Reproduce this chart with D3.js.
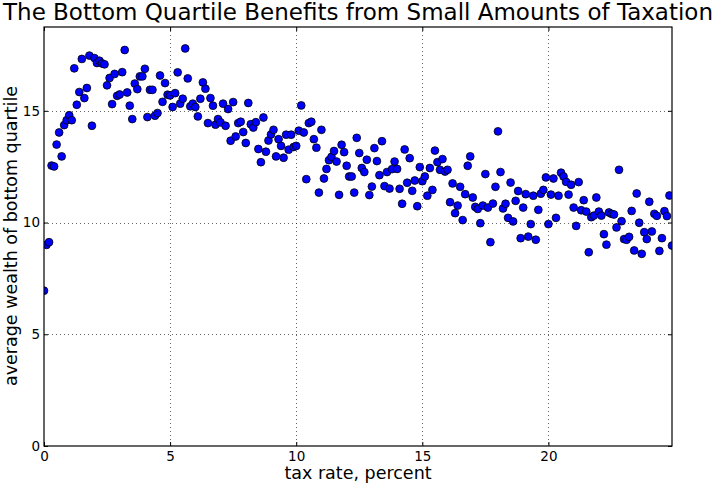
<!DOCTYPE html>
<html><head><meta charset="utf-8">
<script src="https://cdn.jsdelivr.net/npm/d3@7"></script>
<style>body{margin:0;background:#fff}svg{display:block}</style>
</head><body>
<svg id="c" width="719" height="483"></svg>
<script>
const taxRates = [
0,0.1,0.2,0.3,0.4,0.5,0.6,0.7,0.8,0.9,
1,1.1,1.2,1.3,1.4,1.5,1.6,1.7,1.8,1.9,
2,2.1,2.2,2.3,2.4,2.5,2.6,2.7,2.8,2.9,
3,3.1,3.2,3.3,3.4,3.5,3.6,3.7,3.8,3.9,
4,4.1,4.2,4.3,4.4,4.5,4.6,4.7,4.8,4.9,
5,5.1,5.2,5.3,5.4,5.5,5.6,5.7,5.8,5.9,
6,6.1,6.2,6.3,6.4,6.5,6.6,6.7,6.8,6.9,
7,7.1,7.2,7.3,7.4,7.5,7.6,7.7,7.8,7.9,
8,8.1,8.2,8.3,8.4,8.5,8.6,8.7,8.8,8.9,
9,9.1,9.2,9.3,9.4,9.5,9.6,9.7,9.8,9.9,
10,10.1,10.2,10.3,10.4,10.5,10.6,10.7,10.8,10.9,
11,11.1,11.2,11.3,11.4,11.5,11.6,11.7,11.8,11.9,
12,12.1,12.2,12.3,12.4,12.5,12.6,12.7,12.8,12.9,
13,13.1,13.2,13.3,13.4,13.5,13.6,13.7,13.8,13.9,
14,14.1,14.2,14.3,14.4,14.5,14.6,14.7,14.8,14.9,
15,15.1,15.2,15.3,15.4,15.5,15.6,15.7,15.8,15.9,
16,16.1,16.2,16.3,16.4,16.5,16.6,16.7,16.8,16.9,
17,17.1,17.2,17.3,17.4,17.5,17.6,17.7,17.8,17.9,
18,18.1,18.2,18.3,18.4,18.5,18.6,18.7,18.8,18.9,
19,19.1,19.2,19.3,19.4,19.5,19.6,19.7,19.8,19.9,
20,20.1,20.2,20.3,20.4,20.5,20.6,20.7,20.8,20.9,
21,21.1,21.2,21.3,21.4,21.5,21.6,21.7,21.8,21.9,
22,22.1,22.2,22.3,22.4,22.5,22.6,22.7,22.8,22.9,
23,23.1,23.2,23.3,23.4,23.5,23.6,23.7,23.8,23.9,
24,24.1,24.2,24.3,24.4,24.5,24.6,24.7,24.8,24.9
];
const wealth = [
6.95,9.0,9.12,12.55,12.51,13.49,14.03,12.96,14.36,14.58,
14.8,14.58,16.9,15.27,15.84,17.32,15.57,16.02,17.47,14.33,
17.36,17.14,17.24,17.12,17.08,16.14,16.47,15.3,16.65,15.67,
15.73,16.73,17.72,15.82,15.23,14.63,16.22,15.97,16.54,16.54,
16.88,14.72,15.94,15.94,14.78,14.9,16.58,15.4,16.24,15.72,
15.69,15.17,15.79,16.72,15.32,15.54,17.79,16.45,15.2,15.32,
15.17,14.75,15.54,16.27,15.99,14.45,15.57,15.23,14.38,14.63,
14.48,15.32,14.33,15.08,13.66,15.39,13.85,14.45,14.51,14.05,
13.56,15.35,14.4,14.25,14.49,13.29,12.7,14.7,13.17,13.67,
13.94,14.15,12.96,13.73,13.43,12.9,13.93,13.26,13.93,13.38,
13.43,14.11,15.24,14.03,11.94,14.45,14.51,13.73,13.35,11.34,
14.15,11.97,12.4,12.79,12.94,13.2,12.73,11.24,13.48,13.15,
12.54,12.06,12.06,11.34,13.79,13.11,12.44,12.26,12.81,11.23,
11.61,13.33,12.75,12.12,13.64,11.63,12.26,11.52,12.39,12.73,
12.4,11.51,10.84,13.27,11.78,12.88,11.42,11.88,10.73,12.48,
11.85,12.06,11.2,12.44,11.46,13.22,12.7,12.36,12.84,12.28,
12.36,10.91,11.75,10.42,10.76,11.6,10.11,11.27,12.54,12.96,
11.12,10.7,10.61,9.97,10.76,12.17,10.67,9.12,10.85,11.6,
14.08,12.26,10.63,10.84,10.21,11.79,10.05,10.97,11.41,9.3,
10.67,11.27,9.37,9.93,11.2,9.23,10.57,11.29,11.46,12.02,
9.93,11.25,11.97,10.21,11.2,12.23,12.06,11.82,11.25,11.69,
10.67,9.85,11.81,10.55,11.0,10.49,8.67,10.24,10.31,11.12,
10.49,10.31,9.48,9.01,10.45,10.39,10.36,9.78,12.36,10.06,
9.26,9.23,9.36,10.52,8.75,11.3,9.99,8.6,9.57,9.26,
10.93,9.6,10.39,10.3,8.73,9.3,10.51,10.29,11.21,8.97
];
const xTicks = [0, 5, 10, 15, 20];
const yTicks = [0, 5, 10, 15];
const title = "The Bottom Quartile Benefits from Small Amounts of Taxation";
const xLabel = "tax rate, percent";
const yLabel = "average wealth of bottom quartile";

const pL = 44, pR = 672, pT = 27, pB = 446;
const svg = d3.select("#c");
const font = "DejaVu Sans, sans-serif";

const x = d3.scaleLinear().domain([0, 24.9]).range([pL, pR]);
const y = d3.scaleLinear().domain([0, 18.75]).range([pB, pT]);

svg.append("defs").append("clipPath").attr("id", "clip")
  .append("rect").attr("x", pL).attr("y", pT)
  .attr("width", pR - pL).attr("height", pB - pT);

const data = taxRates.map((t, i) => ({t, w: wealth[i]}));

svg.append("g").attr("clip-path", "url(#clip)")
  .selectAll("circle").data(data).join("circle")
  .attr("cx", d => x(d.t)).attr("cy", d => y(d.w))
  .attr("r", 3.9)
  .attr("fill", "#0000ff").attr("stroke", "#000").attr("stroke-width", 0.8);

// grid
const grid = svg.append("g").attr("stroke", "#000").attr("stroke-width", 0.6)
  .attr("stroke-dasharray", "1,3");
grid.selectAll(".gx").data(xTicks.filter(v => v > 0)).join("line")
  .attr("x1", d => Math.round(x(d)) + 0.5).attr("x2", d => Math.round(x(d)) + 0.5)
  .attr("y1", pT).attr("y2", pB);
grid.selectAll(".gy").data(yTicks.filter(v => v > 0)).join("line")
  .attr("y1", d => Math.round(y(d)) + 0.5).attr("y2", d => Math.round(y(d)) + 0.5)
  .attr("x1", pL).attr("x2", pR);

function styleAxis(g, showText) {
  g.select(".domain").remove();
  g.selectAll("line").attr("stroke", "#000").attr("stroke-width", 1);
  g.selectAll("text").attr("font-family", font).attr("font-size", 13.5).attr("fill", "#000");
  if (!showText) g.selectAll("text").remove();
}
svg.append("g").attr("transform", `translate(0,${pB})`)
  .call(d3.axisBottom(x).tickValues(xTicks).tickFormat(d3.format("d")).tickSize(-4).tickPadding(5))
  .call(g => styleAxis(g, true));
svg.append("g").attr("transform", `translate(0,${pT})`)
  .call(d3.axisTop(x).tickValues(xTicks).tickSize(-4))
  .call(g => styleAxis(g, false));
svg.append("g").attr("transform", `translate(${pL},0)`)
  .call(d3.axisLeft(y).tickValues(yTicks).tickFormat(d3.format("d")).tickSize(-4).tickPadding(4))
  .call(g => styleAxis(g, true));
svg.append("g").attr("transform", `translate(${pR},0)`)
  .call(d3.axisRight(y).tickValues(yTicks).tickSize(-4))
  .call(g => styleAxis(g, false));

svg.append("rect").attr("x", pL).attr("y", pT)
  .attr("width", pR - pL).attr("height", pB - pT)
  .attr("fill", "none").attr("stroke", "#000").attr("stroke-width", 1.2);

svg.append("text").attr("x", (pL + pR) / 2).attr("y", 20)
  .attr("text-anchor", "middle").attr("font-family", font).attr("font-size", 23)
  .text(title);
svg.append("text").attr("x", (pL + pR) / 2).attr("y", 479)
  .attr("text-anchor", "middle").attr("font-family", font).attr("font-size", 17.5)
  .text(xLabel);
svg.append("text").attr("transform", `translate(16.5,236) rotate(-90)`)
  .attr("text-anchor", "middle").attr("font-family", font).attr("font-size", 17.5)
  .text(yLabel);
</script>
</body></html>
